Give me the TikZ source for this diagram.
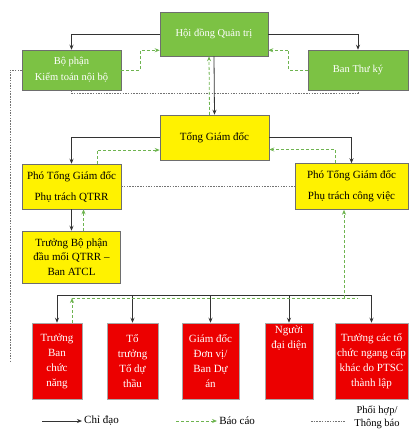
\documentclass[tikz,border=0pt]{standalone}
\usepackage{fontspec}
\setmainfont{Liberation Serif}
\usetikzlibrary{arrows.meta}
\definecolor{boxgreen}{RGB}{124,194,68}
\definecolor{repgreen}{RGB}{110,180,80}
\definecolor{boxred}{RGB}{236,0,0}
\definecolor{edgegray}{RGB}{110,110,110}
\begin{document}
\begin{tikzpicture}[x=1pt, y=-1pt, line width=0.5pt,
  every node/.style={font=\fontsize{11}{15}\selectfont, align=center},
  gbox/.style={draw=edgegray, fill=boxgreen, text=white, inner sep=2pt, font=\fontsize{10.5}{16}\selectfont},
  ybox/.style={draw=edgegray, fill=yellow, text=black, inner sep=2pt},
  rbox/.style={draw=edgegray!60, fill=boxred, text=white, minimum height=76pt, inner sep=2pt},
  lead/.style={-{Stealth[length=5pt, width=4pt]}, line width=0.8pt, draw=black!80},
  report/.style={-{Stealth[length=5pt, width=4pt]}, line width=0.8pt, draw=repgreen, dash pattern=on 3pt off 2pt},
  inform/.style={line width=0.7pt, draw=black!55, dash pattern=on 1.5pt off 1.2pt}]
  \useasboundingbox (0,0) rectangle (409,432);
  % top level
  \node[gbox, minimum width=108pt, minimum height=44pt] (hdqt) at (214,34) {Hội đồng Quản trị};
  \node[gbox, minimum width=99pt, minimum height=40pt] (kt) at (71.5,70) {Bộ phận\\Kiểm toán nội bộ};
  \node[gbox, minimum width=100pt, minimum height=40pt] (tk) at (358,70) {Ban Thư ký};
  \draw[lead] (hdqt.west) -| (kt.north);
  \draw[lead] (hdqt.east) -| (tk.north);
  \draw[report] (kt.east) -- ++(19,0) |- ([yshift=6pt]hdqt.south west);
  \draw[report] (tk.west) -- ++(-19,0) |- ([yshift=6pt]hdqt.south east);
  \draw[inform] (kt.south) -- ++(0,3) -| (tk.south);
  \coordinate (lend) at (10,363);
  \draw[inform] (kt.west) -| (lend);
  % ban tong giam doc
  \node[ybox, minimum width=109pt, minimum height=45pt] (tgd) at (214.5,137.5) {Tổng Giám đốc};
  \node[ybox, minimum width=99pt, minimum height=45pt, font=\fontsize{11}{21}\selectfont] (pqtrr) at (71.5,186.5) {Phó Tổng Giám đốc\\Phụ trách QTRR};
  \node[ybox, minimum width=113pt, minimum height=46pt, font=\fontsize{11}{21}\selectfont] (pcv) at (351.5,186.5) {Phó Tổng Giám đốc\\Phụ trách công việc};
  \node[ybox, minimum width=98pt, minimum height=52pt, font=\fontsize{11}{14.5}\selectfont] (atcl) at (71.5,257) {Trưởng Bộ phận\\đầu mối QTRR –\\Ban ATCL};
  \draw[lead] (hdqt.south) -- (tgd.north);
  \draw[report] ([xshift=-5pt]tgd.north) -- ([xshift=-5pt]hdqt.south);
  \draw[lead] (tgd.west) -| (pqtrr.north);
  \draw[lead] (tgd.east) -| (pcv.north);
  \draw[report] ([xshift=25.5pt]pqtrr.north) |- ([yshift=-12.5pt]tgd.west);
  \draw[report] ([xshift=-16.5pt]pcv.north) |- ([yshift=-12pt]tgd.east);
  \draw[inform] (pqtrr.east) -- (pcv.west);
  \draw[lead] (pqtrr.south) -- (atcl.north);
  \draw[report] ([xshift=12pt]atcl.north) -- ([xshift=12pt]pqtrr.south);
  % don vi
  \node[rbox, minimum width=50pt] (r1) at (57,361) {Trưởng\\Ban\\chức\\năng};
  \node[rbox, minimum width=51pt] (r2) at (132.5,361) {Tổ\\trưởng\\Tổ dự\\thầu};
  \node[rbox, minimum width=57pt] (r3) at (210.5,361) {Giám đốc\\Đơn vị/\\Ban Dự\\án};
  \node[rbox, minimum width=48pt, text depth=47pt] (r4) at (289,361) {Người\\đại diện};
  \node[rbox, minimum width=73pt] (r5) at (371.5,361) {Trưởng các tổ\\chức ngang cấp\\khác do PTSC\\thành lập};
  \coordinate (bus) at (0,295);
  \coordinate (rep) at (0,298);
  \coordinate (repr) at (358,298);
  \draw[line width=0.8pt, black!80] (r1.north |- bus) -- (r5.north |- bus);
  \foreach \i in {1,...,5}
    \draw[lead] (r\i.north |- bus) -- (r\i.north);
  \draw[report] ([xshift=15pt]r1.north) -- ([xshift=15pt]r1.north |- rep);
  \draw[report, -] ([xshift=15pt]r1.north |- rep) -- (repr);
  \draw[report] ([xshift=-7.5pt]pcv.south |- rep) -- ([xshift=-7.5pt]pcv.south);
  % chu thich
  \coordinate (k1) at (42,421);
  \coordinate (k2) at (82,421);
  \coordinate (k3) at (176,421);
  \coordinate (k4) at (217,421);
  \coordinate (k5) at (311,421);
  \coordinate (k6) at (346,421);
  \draw[lead] (k1) -- (k2);
  \node[anchor=west, inner sep=2pt] (kchi) at (k2) {Chỉ đạo};
  \draw[report] (k3) -- (k4);
  \node[anchor=west, inner sep=2pt] (kbao) at (k4) {Báo cáo};
  \draw[inform] (k5) -- (k6);
  \node[anchor=north, inner sep=1pt, font=\fontsize{10.5}{12.5}\selectfont] (kphoi) at (377,405) {Phối hợp/\\Thông báo};
\end{tikzpicture}
\end{document}
